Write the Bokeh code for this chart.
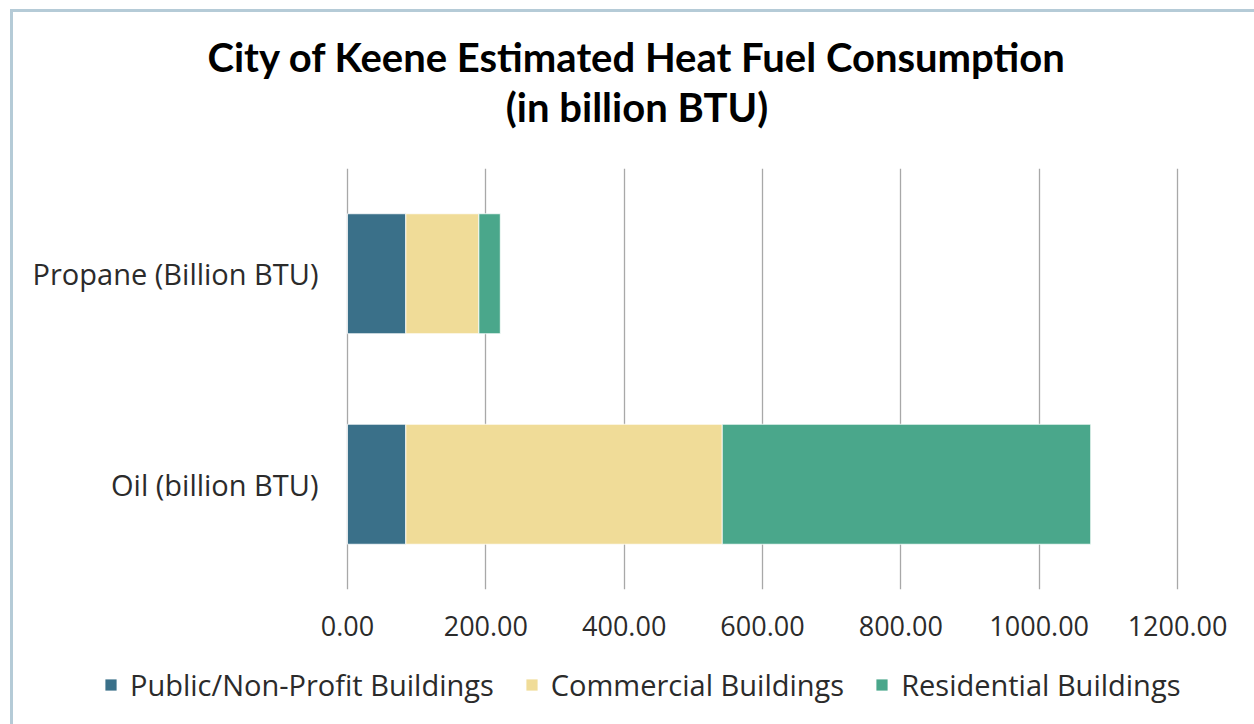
from bokeh.plotting import figure
from bokeh.layouts import column
from bokeh.models import (ColumnDataSource, FactorRange, Range1d, FixedTicker,
                          NumeralTickFormatter, Legend, LegendItem, Label)
from bokeh.core.properties import value
from bokeh.embed import file_html
from bokeh.resources import INLINE

# ---- data ----
fuels = ["Oil (billion BTU)", "Propane (Billion BTU)"]  # bottom to top
public_nonprofit = [84.3, 84.3]
commercial = [457.5, 105.6]
residential = [532.7, 31.0]
series_names = ["Public/Non-Profit Buildings", "Commercial Buildings", "Residential Buildings"]
series_colors = ["#3a7089", "#f0dc98", "#4aa78b"]
x_ticks = [0, 200, 400, 600, 800, 1000, 1200]
title_lines = ["City of Keene Estimated Heat Fuel Consumption", "(in billion BTU)"]

W = 1241


def blank_figure(height):
    f = figure(width=W, height=height, output_backend="svg", toolbar_location=None,
               x_axis_location=None, y_axis_location=None,
               x_range=Range1d(0, W), y_range=Range1d(0, height),
               min_border_left=0, min_border_right=0, min_border_top=0, min_border_bottom=0)
    f.outline_line_color = None
    f.xgrid.visible = False
    f.ygrid.visible = False
    return f


# ---- header with the two-line title ----
pt = blank_figure(156)
for i, line in enumerate(title_lines):
    pt.add_layout(Label(x=623.5, y=112 - 50 * i, text=line,
                        text_align="center", text_baseline="middle",
                        text_font="Lato", text_font_style="bold",
                        text_font_size="40px", text_color="black"))

# ---- main chart ----
source = ColumnDataSource(dict(
    fuel=fuels,
    public=public_nonprofit,
    commercial=commercial,
    residential=residential,
))

# the frame spans the full width; the visible value axis runs 0..1200
p = figure(
    width=W, height=491,
    y_range=FactorRange(factors=fuels, range_padding=0),
    x_range=Range1d(-482.9, 1311.3),
    output_backend="svg", toolbar_location=None, y_axis_location=None,
    min_border_left=0, min_border_right=0, min_border_top=0, min_border_bottom=70,
)
p.outline_line_color = None
p.background_fill_color = "white"
p.border_fill_color = "white"

renderers = p.hbar_stack(["public", "commercial", "residential"], y="fuel", height=0.57,
                         color=series_colors, source=source,
                         line_color="white", line_width=0.8)

# category labels, right-aligned just left of the zero line
p.text(x=0, y="fuel", text="fuel", source=source, x_offset=-29,
       text_align="right", text_baseline="middle",
       text_font=value("Open Sans"), text_font_size="29px", text_color="#2b2b2b")

# value axis
p.xaxis.ticker = FixedTicker(ticks=x_ticks)
p.xaxis.formatter = NumeralTickFormatter(format="0.00")
p.xaxis.axis_line_color = None
p.xaxis.major_tick_line_color = None
p.xaxis.minor_tick_line_color = None
p.xaxis.major_tick_out = 0
p.xaxis.major_label_standoff = 26
p.xaxis.major_label_text_font = "Open Sans"
p.xaxis.major_label_text_font_size = "27px"
p.xaxis.major_label_text_color = "#2b2b2b"

p.xgrid.ticker = FixedTicker(ticks=x_ticks)
p.xgrid.grid_line_color = "#a8a8a8"
p.xgrid.grid_line_width = 1.3
p.ygrid.grid_line_color = None

# ---- legend row (proxy renderers carry the colours) ----
nan = float("nan")
pl = blank_figure(65)
proxies = [pl.hbar(y=[nan], left=[nan], right=[nan], height=0.5,
                   fill_color=c, line_color="white", line_width=0.8)
           for c in series_colors]
legend = Legend(
    items=[LegendItem(label=n, renderers=[r]) for n, r in zip(series_names, proxies)],
    orientation="horizontal", location=(90, 20),
    label_text_font="Open Sans", label_text_font_size="29px", label_text_color="#2b2b2b",
    glyph_width=15, glyph_height=15, label_standoff=12, spacing=30,
    padding=0, margin=0, border_line_color=None, background_fill_alpha=0,
)
pl.add_layout(legend, "center")

layout = column(pt, p, pl, spacing=0)
layout.styles = {"border-top": "3px solid #b5cbd7", "border-left": "3px solid #b5cbd7",
                 "margin-top": "9px", "margin-left": "10px"}

open("out.html", "w").write(file_html(layout, INLINE))
